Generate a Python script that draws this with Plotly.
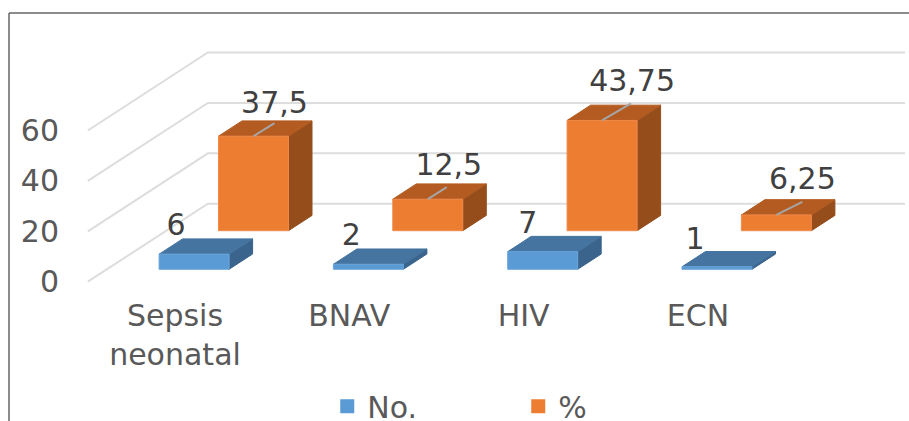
import plotly.graph_objects as go

# ---- data ----
categories = ["Sepsis<br>neonatal", "BNAV", "HIV", "ECN"]
no_values = [6, 2, 7, 1]
pct_values = [37.5, 12.5, 43.75, 6.25]
no_labels = ["6", "2", "7", "1"]
pct_labels = ["37,5", "12,5", "43,75", "6,25"]
y_ticks = [0, 20, 40, 60]

# ---- layout constants (pixels of the 909x421 page) ----
W, H = 909, 421
PLOT_L, PLOT_R, PLOT_T, PLOT_B = 60, 909, 13, 295
CAT0_PX, CAT_PX = 175.0, 174.3      # pixel of category 0 on the front floor edge; pixels per category
ZERO_PX, UNIT_PX = 281.7, 2.52      # pixel of value 0 on front edge; pixels per value unit
DEPTH_DX, DEPTH_DY = 120.0, 78.0    # pixels spanned by the full floor depth

sx = DEPTH_DX / CAT_PX
sy = DEPTH_DY / UNIT_PX

def proj(cat, val, z):
    """Oblique projection of (category, value, depth) to the 2-D axes."""
    return cat + z * sx, val + z * sy

HALF = 35 / CAT_PX
Z_NO, Z_PCT, DZ = 0.159, 0.654, 0.196

FONT = "DejaVu Sans"
GREY = "#595959"
FS = 30

fig = go.Figure()

# ---- floor and wall gridlines ----
gx, gy = [], []
for t in y_ticks:
    for c, z in [(-0.5, 0), (-0.5, 1), (3.5, 1)]:
        px_, py_ = proj(c, t, z)
        gx.append(px_); gy.append(py_)
    gx.append(None); gy.append(None)
fig.add_trace(go.Scatter(x=gx, y=gy, mode="lines", line=dict(color="#DDDDDD", width=2),
                         showlegend=False, hoverinfo="skip"))

def bars(values, z0, front, top, side, edge):
    fx, fy, tx, ty, ax, ay = [], [], [], [], [], []
    for i, v in enumerate(values):
        l, r = i - HALF, i + HALF
        for (xs, ys, corners) in [
            (fx, fy, [(l, 0, z0), (r, 0, z0), (r, v, z0), (l, v, z0), (l, 0, z0)]),
            (tx, ty, [(l, v, z0), (r, v, z0), (r, v, z0 + DZ), (l, v, z0 + DZ), (l, v, z0)]),
            (ax, ay, [(r, 0, z0), (r, 0, z0 + DZ), (r, v, z0 + DZ), (r, v, z0), (r, 0, z0)]),
        ]:
            for c in corners:
                p = proj(*c)
                xs.append(p[0]); ys.append(p[1])
            xs.append(None); ys.append(None)
    for xs, ys, col, ln in [(ax, ay, side, side), (tx, ty, top, top), (fx, fy, front, edge)]:
        fig.add_trace(go.Scatter(x=xs, y=ys, mode="lines", fill="toself", fillcolor=col,
                                 line=dict(color=ln, width=1), showlegend=False, hoverinfo="skip"))

bars(pct_values, Z_PCT, "#ED7D31", "#B35B20", "#954E1B", "#F0894A")
bars(no_values, Z_NO, "#5B9BD5", "#44749F", "#3A648C", "#6BA6DA")

# ---- leader lines for the % labels ----
pct_leader_dx = [21, 19, 29, 26]
pct_leader_dy = [13, 12, 17, 13]
lx, ly = [], []
for i, v in enumerate(pct_values):
    p = proj(i, v, Z_PCT)
    lx += [p[0], p[0] + pct_leader_dx[i] / CAT_PX, None]
    ly += [p[1], p[1] + pct_leader_dy[i] / UNIT_PX, None]
fig.add_trace(go.Scatter(x=lx, y=ly, mode="lines", line=dict(color="#A6A6A6", width=2),
                         showlegend=False, hoverinfo="skip"))

# ---- data labels ----
pct_label_dx = [21, 21, 30, 26]
pct_label_dy = [31, 32, 37, 33]
no_label_dx = [-18, -17, -15, -22]
no_label_dy = [27, 27, 26, 25]
for vals, z0, texts, dxs, dys in [(pct_values, Z_PCT, pct_labels, pct_label_dx, pct_label_dy),
                                  (no_values, Z_NO, no_labels, no_label_dx, no_label_dy)]:
    xs, ys = [], []
    for i, v in enumerate(vals):
        p = proj(i, v, z0)
        xs.append(p[0] + dxs[i] / CAT_PX)
        ys.append(p[1] + dys[i] / UNIT_PX)
    fig.add_trace(go.Scatter(x=xs, y=ys, mode="text", text=texts, textposition="middle center",
                             textfont=dict(family=FONT, size=FS, color="#404040"),
                             showlegend=False, hoverinfo="skip", cliponaxis=False))

# ---- legend entries ----
for name, col in [("No.", "#5B9BD5"), ("%", "#ED7D31")]:
    fig.add_trace(go.Scatter(x=[None], y=[None], mode="markers", name=name,
                             marker=dict(symbol="square", size=16, color=col,
                                         line=dict(color=col, width=4))))

plot_w = PLOT_R - PLOT_L
plot_h = PLOT_B - PLOT_T
fig.update_layout(
    width=W, height=H, autosize=False,
    margin=dict(l=PLOT_L, r=W - PLOT_R, t=PLOT_T, b=H - PLOT_B, pad=0),
    paper_bgcolor="white", plot_bgcolor="white",
    font=dict(family=FONT, size=FS, color=GREY),
    xaxis=dict(range=[(PLOT_L - CAT0_PX) / CAT_PX, (PLOT_R - CAT0_PX) / CAT_PX],
               tickvals=list(range(len(categories))), ticktext=categories,
               showgrid=False, zeroline=False, showline=False, ticks="", ticklabelstandoff=0,
               tickfont=dict(family=FONT, size=FS, color=GREY)),
    yaxis=dict(range=[(ZERO_PX - PLOT_B) / UNIT_PX, (ZERO_PX - PLOT_T) / UNIT_PX],
               tickvals=y_ticks, showgrid=False, zeroline=False, showline=False, ticks="",
               tickfont=dict(family=FONT, size=FS, color=GREY)),
    legend=dict(orientation="h", xref="container", yref="container", x=0.36, y=0.097,
                xanchor="left", yanchor="top", entrywidth=146, entrywidthmode="pixels",
                itemsizing="constant", font=dict(family=FONT, size=FS, color=GREY),
                bgcolor="rgba(0,0,0,0)", tracegroupgap=0),
    shapes=[
        dict(type="line", xref="paper", yref="paper",
             x0=(9 - PLOT_L) / plot_w, x1=(9 - PLOT_L) / plot_w,
             y0=(PLOT_B - H) / plot_h, y1=1, line=dict(color="#666666", width=1.5)),
        dict(type="line", xref="paper", yref="paper",
             x0=(9 - PLOT_L) / plot_w, x1=1, y0=1, y1=1, line=dict(color="#666666", width=1.5)),
    ],
)

fig.write_html("out.html", config=dict(displayModeBar=False),
               post_script="document.body.style.margin='0';document.body.style.overflow='hidden';")
